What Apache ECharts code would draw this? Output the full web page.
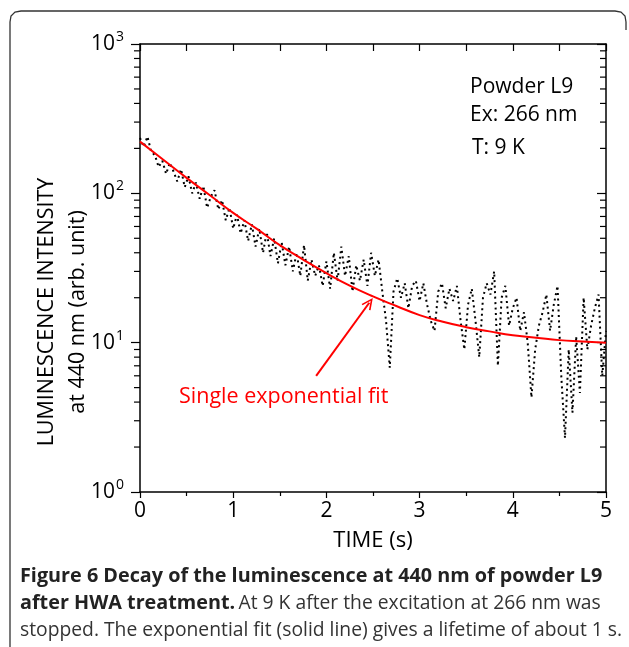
<!DOCTYPE html>
<html>
<head>
<meta charset="utf-8">
<script src="https://cdn.jsdelivr.net/npm/echarts@6/dist/echarts.min.js"></script>
<style>
html,body{margin:0;padding:0;background:#fff;}
#chart{width:629px;height:647px;}
</style>
</head>
<body>
<div id="chart"></div>
<script>
// measured decay, sampled every 0.04 s
var decayTime = [0,0.04,0.08,0.12,0.16,0.2,0.24,0.28,0.32,0.36,0.4,0.44,0.48,0.52,0.56,0.6,0.64,0.68,0.72,0.76,
  0.8,0.84,0.88,0.92,0.96,1,1.04,1.08,1.12,1.16,1.2,1.24,1.28,1.32,1.36,1.4,1.44,1.48,1.52,1.56,
  1.6,1.64,1.68,1.72,1.76,1.8,1.84,1.88,1.92,1.96,2,2.04,2.08,2.12,2.16,2.2,2.24,2.28,2.32,2.36,
  2.4,2.44,2.48,2.52,2.56,2.6,2.64,2.68,2.72,2.76,2.8,2.84,2.88,2.92,2.96,3,3.04,3.08,3.12,3.16,
  3.2,3.24,3.28,3.32,3.36,3.4,3.44,3.48,3.52,3.56,3.6,3.64,3.68,3.72,3.76,3.8,3.84,3.88,3.92,3.96,
  4,4.04,4.08,4.12,4.16,4.2,4.24,4.28,4.32,4.36,4.4,4.44,4.48,4.52,4.56,4.6,4.64,4.68,4.72,4.76,
  4.8,4.84,4.88,4.92,4.96,5];
var decayIntensity = [235,205,240,190,180,150,165,135,160,140,120,145,110,130,100,118,92,112,80,95,
  105,78,90,66,80,58,72,54,66,48,62,44,58,40,55,38,50,34,47,33,
  44,30,40,28,45,26,36,28,33,24,35,23,40,26,44,28,38,22,33,26,
  36,24,40,28,36,22,14,6.8,22,27,20,25,17,24,26,19,25,18,14,12,
  22,25,17,23,19,24,14,9,18,23,14,8,20,25,21,30,7,20,24,13,
  17,20,12,16,10,4.3,9,13,16,21,12,18,24,6,2.3,9,3.4,11,4.6,20,
  9,13,17,21,6,12];

// single exponential fit
var fitTime = [0,0.25,0.5,0.75,1,1.25,1.5,1.75,2,2.25,2.5,2.75,3,3.25,3.5,3.75,4,4.25,4.5,4.75,5];
var fitIntensity = [222,168,127,97,74,58,45,36,29.2,24.1,20.4,17.6,15.3,13.8,12.7,11.9,11.2,10.8,10.4,10.2,10.0];

var yTickLabels = {1: '10{s|0}', 10: '10{s|1}', 100: '10{s|2}', 1000: '10{s|3}'};
var logMinor = [];
[1, 10, 100].forEach(function (d) {
  for (var k = 2; k <= 9; k++) logMinor.push(d * k);
});

var font = 'Open Sans';
var chart = echarts.init(document.getElementById('chart'));

var decayData = decayTime.map(function (t, i) { return [t, decayIntensity[i]]; });
var fitData = fitTime.map(function (t, i) { return [t, fitIntensity[i]]; });

var option = {
  backgroundColor: '#fff',
  animation: false,
  textStyle: { fontFamily: font },
  grid: { left: 140, right: 23, top: 44, bottom: 155 },
  xAxis: [{
    type: 'value', min: 0, max: 5, interval: 1,
    name: 'TIME (s)', nameLocation: 'middle', nameGap: 38,
    nameTextStyle: { fontSize: 22, color: '#000', fontFamily: font },
    axisLine: { onZero: false, lineStyle: { color: '#000', width: 1.5 } },
    axisTick: { inside: false, length: 6, lineStyle: { color: '#000', width: 1.2 } },
    minorTick: { show: true, splitNumber: 2, length: 4, lineStyle: { color: '#000', width: 1.2 } },
    axisLabel: { fontSize: 21, color: '#000', margin: 9, fontFamily: font },
    splitLine: { show: false }
  }, {
    type: 'value', min: 0, max: 5, interval: 1, position: 'top',
    axisLine: { onZero: false, lineStyle: { color: '#000', width: 1.5 } },
    axisTick: { inside: true, length: 7, lineStyle: { color: '#000', width: 1.2 } },
    minorTick: { show: true, splitNumber: 2, length: 7, lineStyle: { color: '#000', width: 1.2 } },
    axisLabel: { show: false },
    splitLine: { show: false }
  }],
  yAxis: [{
    type: 'log', logBase: 10, min: 1, max: 1000,
    axisLine: { onZero: false, lineStyle: { color: '#000', width: 1.5 } },
    axisTick: { inside: false, length: 9, lineStyle: { color: '#000', width: 1.2 } },
    axisLabel: {
      fontSize: 21, color: '#000', margin: 16, fontFamily: font,
      formatter: function (v) { return yTickLabels[Math.round(v)] || ''; },
      rich: { s: { fontSize: 14, verticalAlign: 'top', padding: [0, 0, 14, 1], color: '#000', fontFamily: font } }
    },
    splitLine: { show: false }
  }, {
    type: 'log', logBase: 10, min: 1, max: 1000, position: 'right',
    axisLine: { onZero: false, lineStyle: { color: '#000', width: 1.5 } },
    axisTick: { inside: true, length: 9, lineStyle: { color: '#000', width: 1.2 } },
    axisLabel: { show: false },
    splitLine: { show: false }
  }],
  series: [{
    type: 'line',
    data: decayData,
    showSymbol: false,
    lineStyle: { color: '#000', width: 2, type: [2, 3.5] },
    z: 2
  }, {
    type: 'line',
    data: fitData,
    smooth: true,
    showSymbol: false,
    lineStyle: { color: '#ff0000', width: 2 },
    z: 3,
    markLine: {
      silent: true,
      symbol: ['none', 'path://M5,0 L10,11 L8.6,11.6 L5,3.5 L1.4,11.6 L0,11 Z'],
      symbolSize: [11, 12],
      lineStyle: { color: '#ff0000', width: 2, type: 'solid' },
      label: { show: false },
      data: [[{ coord: [1.89, 6.0] }, { coord: [2.46, 18.5] }]]
    }
  }, {
    // log minor ticks on left (outside) and right (inside) axes
    type: 'custom',
    clip: false,
    silent: true,
    data: logMinor,
    renderItem: function (params, api) {
      var v = api.value(0);
      var l = api.coord([0, v]);
      var r = api.coord([5, v]);
      var st = { stroke: '#000', lineWidth: 1.2 };
      return {
        type: 'group',
        children: [
          { type: 'line', shape: { x1: l[0] - 6, y1: l[1], x2: l[0], y2: l[1] }, style: st },
          { type: 'line', shape: { x1: r[0] - 6, y1: r[1], x2: r[0], y2: r[1] }, style: st }
        ]
      };
    },
    encode: { y: 0 }
  }],
  graphic: [{
    type: 'polyline',
    shape: { points: [[10, 660], [10, 22], [11, 16], [15, 12], [21, 11], [615, 11], [621, 12], [625, 16], [626, 22], [626, 30]] },
    style: { stroke: '#333', lineWidth: 1.3, fill: null }
  }, {
    type: 'text', x: 62, y: 312, rotation: Math.PI / 2,
    style: {
      text: 'LUMINESCENCE INTENSITY\nat 440 nm (arb. unit)',
      fontSize: 21.5, lineHeight: 31, fill: '#000', fontFamily: font,
      align: 'center', verticalAlign: 'middle'
    }
  }, {
    type: 'text', left: 470, top: 77,
    style: { text: 'Powder L9', fontSize: 21, fill: '#000', fontFamily: font }
  }, {
    type: 'text', left: 470, top: 105,
    style: { text: 'Ex: 266 nm', fontSize: 21, fill: '#000', fontFamily: font }
  }, {
    type: 'text', left: 472, top: 138,
    style: { text: 'T: 9 K', fontSize: 21, fill: '#000', fontFamily: font }
  }, {
    type: 'text', left: 179, top: 386,
    style: { text: 'Single exponential fit', fontSize: 21.5, fill: '#ff0000', fontFamily: font }
  }, {
    type: 'text', left: 20, top: 563,
    style: {
      text: '{b|Figure 6 Decay of the luminescence at 440 nm of powder L9}\n{b|after HWA treatment.} {n|At 9 K after the excitation at 266 nm was}\n{n|stopped. The exponential fit (solid line) gives a lifetime of about 1 s.}',
      lineHeight: 27,
      rich: {
        b: { fontSize: 19.8, fontWeight: 'bold', fill: '#222', fontFamily: font, lineHeight: 27 },
        n: { fontSize: 19.3, fill: '#333', fontFamily: font, lineHeight: 27 }
      }
    }
  }]
};

chart.setOption(option);
</script>
</body>
</html>
